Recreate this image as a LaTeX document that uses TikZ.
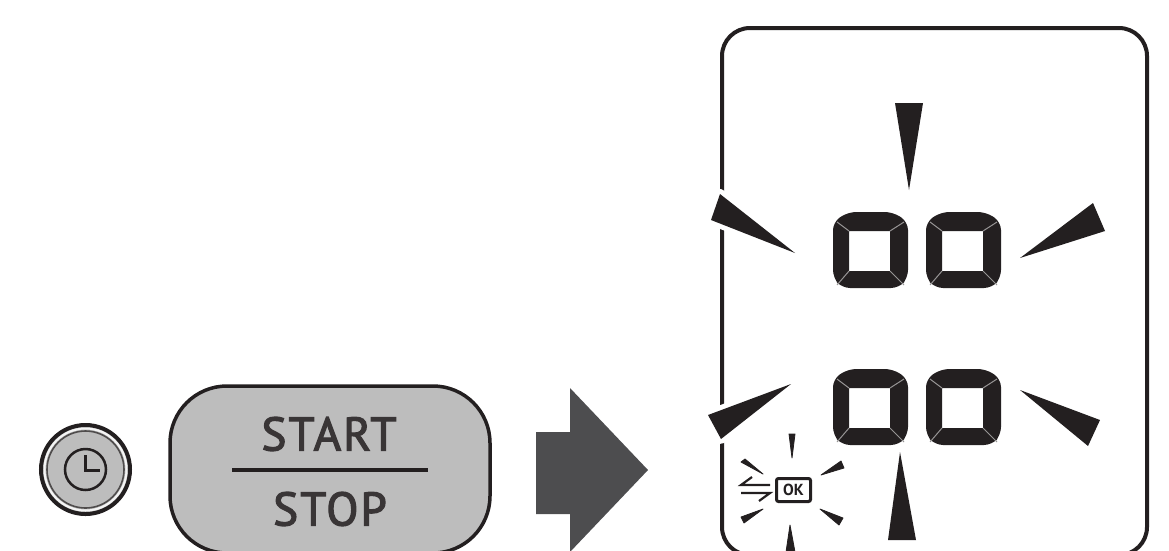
\documentclass[tikz,border=0pt]{standalone}
\usepackage{xcolor}
\usepackage{fontspec}
\setmainfont{PT Sans}
\newfontfamily\btnfont[FakeBold=2.6, LetterSpace=4.5]{PT Sans}
\usetikzlibrary{arrows.meta, positioning, calc}
\definecolor{pnlink}{RGB}{35, 31, 32}
\definecolor{pnbutton}{RGB}{189, 189, 189}
\definecolor{pnarrow}{RGB}{77, 77, 79}
\definecolor{pnseam}{RGB}{150, 148, 148}

\begin{document}
\begin{tikzpicture}[
  x=1pt, y=-1pt,
  spike/.style={
    fill=pnlink,
    preaction={draw=white, line width=10pt, line join=round}
  },
  tinyspike/.style={fill=pnlink, draw=pnlink, line width=0.8pt, line join=round},
  seam/.style={draw=pnseam, line width=1pt},
  btnlabel/.style={
    font=\fontsize{47}{47}\btnfont, text=pnlink!90!white,
    inner sep=0pt, anchor=center
  },
  okbadge/.style={
    rectangle, rounded corners=2pt,
    draw=pnlink, line width=3pt, fill=white,
    minimum width=34pt, minimum height=23pt, inner sep=0pt,
    font=\fontsize{16}{16}\selectfont\bfseries, text=pnlink
  },
]

\useasboundingbox (0,0) rectangle (1169,550);
\clip (0,0) rectangle (1169,550);

%% ================================================================
%% CLOCK BUTTON
%% ================================================================
\fill[pnbutton] (85.5,469.5) circle (46);
\draw[pnlink, line width=4pt] (85.5,469.5) circle (44.5);
\draw[white!85!pnbutton, line width=2pt] (85.5,469.5) circle (41);
\draw[pnlink!80!white, line width=1.6pt] (85.5,469.5) circle (38.5);
\draw[pnlink, line width=2.5pt] (85.5,469.5) circle (20.5);
\draw[pnlink, line width=2.5pt] (85.5,455) -- (85.5,470.5) -- (100,470.5);

%% ================================================================
%% START / STOP BUTTON
%% ================================================================
\draw[pnlink, fill=pnbutton, line width=3.5pt, rounded corners=57pt]
  (170,386) rectangle (490,553);
\node[btnlabel] (start) at (329,434) {START};
\node[btnlabel] (stop)  at (330,509) {STOP};
\draw[pnlink, line width=4pt] (232,470) -- (428,470);

%% ================================================================
%% BIG ARROW
%% ================================================================
\fill[pnarrow] (536,432) -- (570,432) -- (570,388) -- (648,470)
  -- (570,552) -- (570,514) -- (536,514) -- cycle;

%% ================================================================
%% DISPLAY
%% ================================================================
\draw[pnlink, line width=4pt, rounded corners=28pt]
  (722,28) rectangle (1147,555);

% Segmented digits: two columns, two rows
\foreach \dx in {0, 93} {
  \foreach \dy in {0, 157} {
    \begin{scope}[shift={(\dx,\dy)}]
      \fill[pnlink, even odd rule]
        [rounded corners=8pt] (848,212) -- (893,212) -- (908,222) -- (908,278)
        -- (899,288) -- (842,288) -- (833,278) -- (833,222) -- cycle
        [sharp corners] (849,231) rectangle (890,271);
      \draw[seam] (849,231) -- (837,222);
      \draw[seam] (890,231) -- (904,222);
      \draw[seam] (849,271) -- (837,285);
      \draw[seam] (890,271) -- (904,285);
    \end{scope}
  }
}

% Large flashing spikes
\fill[spike] (895,103) -- (923,103) -- (909,190) -- cycle;
\fill[spike] (720,194) -- (711,220) -- (795,253) -- cycle;
\fill[spike] (1093,203) -- (1105,231) -- (1020,258) -- cycle;
\fill[spike] (708,415) -- (721,439) -- (791,384) -- cycle;
\fill[spike] (1020,390) -- (1100,420) -- (1088,446) -- cycle;
\fill[spike] (900,452) -- (888,540) -- (916,540) -- cycle;

%% ================================================================
%% OK INDICATOR
%% ================================================================
\node[okbadge] (ok) at (793.5,490) {OK};

% Sync arrows
\draw[pnlink, line width=2.2pt] (770,485) -- (741,485) -- (752,477);
\draw[pnlink, line width=2.2pt] (741,493) -- (770,493) -- (759,501);

% Small flashing spikes
\draw[tinyspike] (789,434) -- (795,434) -- (792,458) -- cycle;
\draw[tinyspike] (741,462) -- (745,459) -- (763,474) -- cycle;
\draw[tinyspike] (821,475) -- (841,461) -- (844,468) -- cycle;
\draw[tinyspike] (741,517) -- (744,523) -- (763,509) -- cycle;
\draw[tinyspike] (820,509) -- (843,518) -- (839,525) -- cycle;
\draw[tinyspike] (790,525) -- (786,552) -- (795,552) -- cycle;

\end{tikzpicture}
\end{document}
